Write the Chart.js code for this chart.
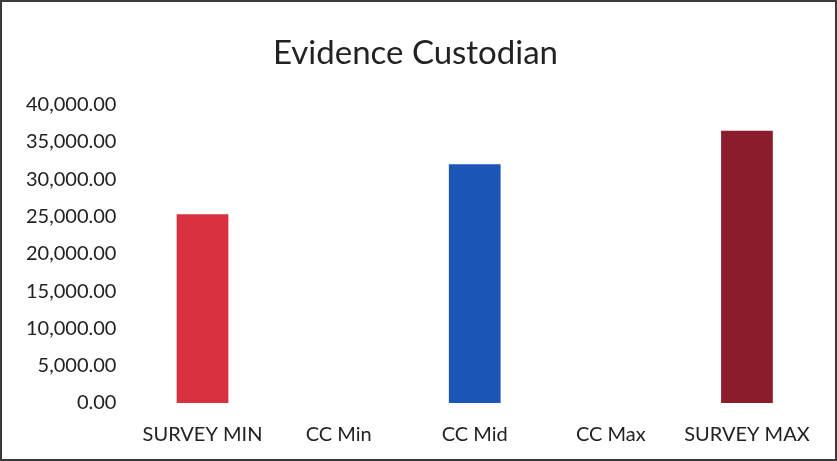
<!DOCTYPE html>
<html>
<head>
<meta charset="utf-8">
<script src="https://cdn.jsdelivr.net/npm/chart.js@4"></script>
<style>
  body { margin: 0; background: #fff; }
  #wrap {
    width: 837px; height: 461px; box-sizing: border-box;
    border: 2px solid #3a3a3a; background: #fff;
  }
</style>
</head>
<body>
<div id="wrap"><canvas id="chart" width="833" height="457"></canvas></div>
<script>
const categories = ['SURVEY MIN', 'CC Min', 'CC Mid', 'CC Max', 'SURVEY MAX'];
const salaries = [25300, 0, 32000, 0, 36500];
const barColors = ['#d8303e', '#ffffff', '#1b55b5', '#ffffff', '#8a1c2c'];
const yTicks = [0, 5000, 10000, 15000, 20000, 25000, 30000, 35000, 40000];

const fmt = v => v.toLocaleString('en-US', { minimumFractionDigits: 2, maximumFractionDigits: 2 });

new Chart(document.getElementById('chart'), {
  type: 'bar',
  data: {
    labels: categories,
    datasets: [{
      data: salaries,
      backgroundColor: barColors,
      barPercentage: 0.38,
      categoryPercentage: 1
    }]
  },
  options: {
    responsive: false,
    animation: false,
    layout: { padding: { left: 14, right: 20, top: 32, bottom: 0 } },
    plugins: {
      legend: { display: false },
      tooltip: { enabled: false },
      title: {
        display: true,
        text: 'Evidence Custodian',
        color: '#222',
        font: { family: 'Lato', size: 33, weight: 'normal' },
        padding: { top: 0, bottom: 31 }
      }
    },
    scales: {
      x: {
        grid: { display: false },
        border: { display: false },
        ticks: { color: '#222', font: { family: 'Lato', size: 20 }, padding: 12 }
      },
      y: {
        min: 0,
        max: 40000,
        afterBuildTicks: axis => { axis.ticks = yTicks.map(v => ({ value: v })); },
        grid: { display: false },
        border: { display: false },
        ticks: { color: '#222', font: { family: 'Lato', size: 20 }, padding: 10, callback: v => fmt(v) }
      }
    }
  }
});
</script>
</body>
</html>
